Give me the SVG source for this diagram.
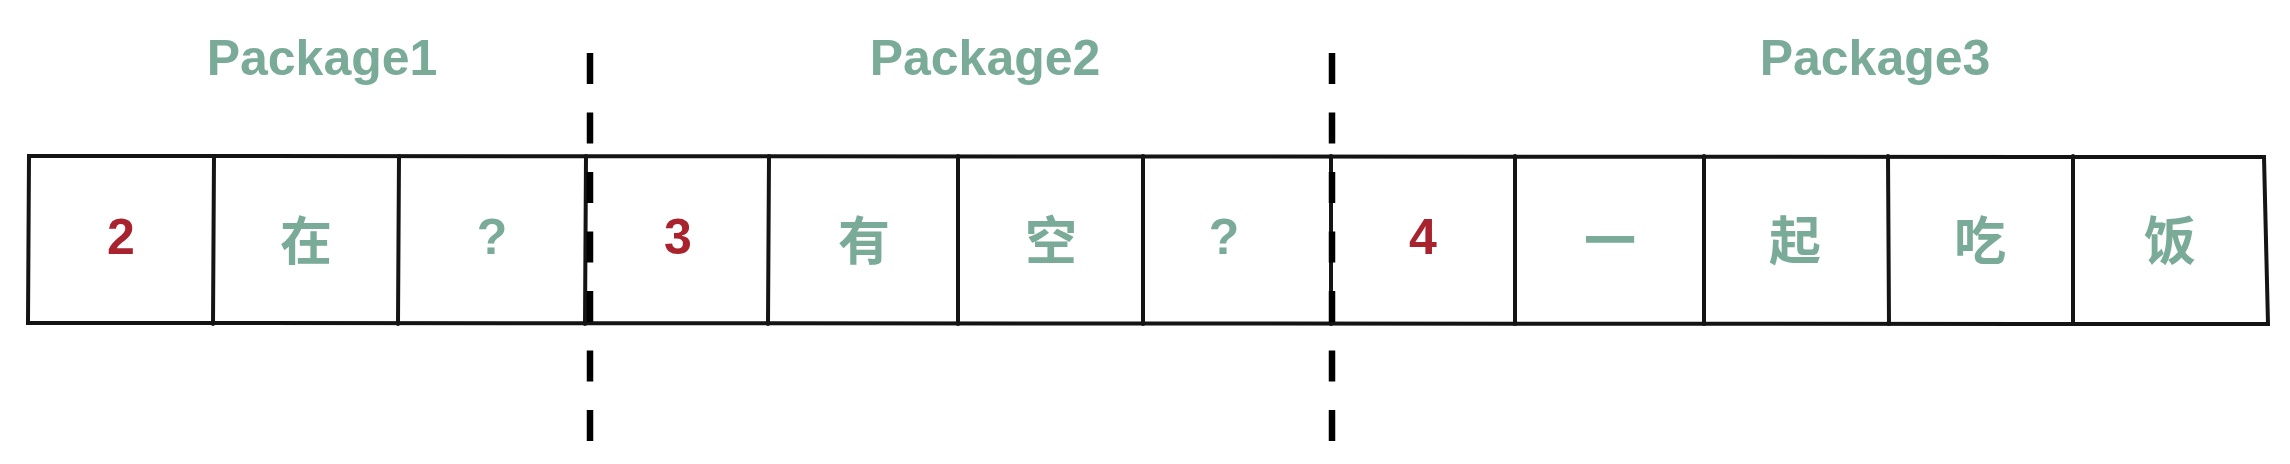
<svg xmlns="http://www.w3.org/2000/svg" width="2290" height="464" viewBox="0 0 2290 464">
<style>
.box{fill:none;stroke:#141414;stroke-width:4;stroke-linecap:round}
.sep{stroke:#000;stroke-width:6.5;stroke-dasharray:31 28.5;fill:none}
.pkg{font-family:"Liberation Sans","Noto Sans CJK SC",sans-serif;font-weight:bold;font-size:50px;fill:#7aab98;text-anchor:middle}
.num{font-family:"Liberation Sans",sans-serif;font-weight:bold;font-size:50px;fill:#a8232e;text-anchor:middle;dominant-baseline:central}
.ch{font-family:"Noto Sans CJK SC","Liberation Sans",sans-serif;font-weight:bold;font-size:52px;fill:#7aab98;text-anchor:middle;dominant-baseline:central}
.q{font-family:"Liberation Sans",sans-serif;font-weight:bold;font-size:50px;fill:#7aab98;text-anchor:middle;dominant-baseline:central}
</style>
<rect width="2290" height="464" fill="#ffffff"/>
<g id="labels">
<text class="pkg" x="322" y="75">Package1</text>
<text class="pkg" x="985" y="75">Package2</text>
<text class="pkg" x="1875" y="75">Package3</text>
</g>
<g id="strip">
<path class="box" d="M29 156 L2264 157 L2268 324 L28 323 Z"/>
<line class="box" x1="214" y1="156" x2="213" y2="324"/>
<line class="box" x1="399" y1="156" x2="398" y2="324"/>
<line class="box" x1="586" y1="156" x2="585" y2="324"/>
<line class="box" x1="769" y1="156" x2="768" y2="324"/>
<line class="box" x1="958" y1="156" x2="958" y2="324"/>
<line class="box" x1="1143" y1="156" x2="1143" y2="324"/>
<line class="box" x1="1331" y1="156" x2="1331" y2="324"/>
<line class="box" x1="1515" y1="156" x2="1515" y2="324"/>
<line class="box" x1="1704" y1="156" x2="1704" y2="324"/>
<line class="box" x1="1888" y1="156" x2="1889" y2="324"/>
<line class="box" x1="2073" y1="156" x2="2073" y2="324"/>
</g>
<g id="cells">
<g id="c1"><text class="num" x="121" y="237">2</text></g>
<g id="c2"><text class="ch" x="306" y="237">在</text></g>
<g id="c3"><text class="q" x="492" y="237">?</text></g>
<g id="c4"><text class="num" x="678" y="237">3</text></g>
<g id="c5"><text class="ch" x="864" y="237">有</text></g>
<g id="c6"><text class="ch" x="1051" y="237">空</text></g>
<g id="c7"><text class="q" x="1224" y="237">?</text></g>
<g id="c8"><text class="num" x="1423" y="237">4</text></g>
<g id="c9"><text class="ch" x="1610" y="237">一</text></g>
<g id="c10"><text class="ch" x="1795" y="237">起</text></g>
<g id="c11"><text class="ch" x="1980" y="237">吃</text></g>
<g id="c12"><text class="ch" x="2170" y="237">饭</text></g>
</g>
<g id="separators">
<line class="sep" x1="590" y1="53" x2="590" y2="442"/>
<line class="sep" x1="1332" y1="53" x2="1332" y2="442"/>
</g>
</svg>
